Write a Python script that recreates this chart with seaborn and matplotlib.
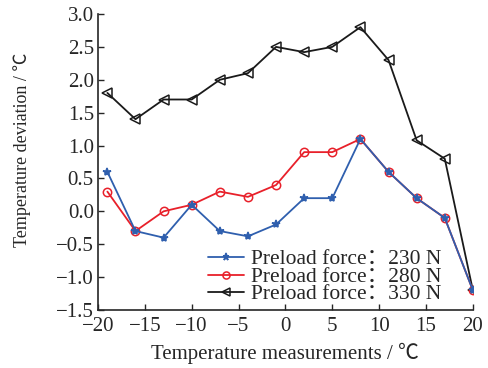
"""Temperature deviation vs temperature measurement for three preload forces."""

import numpy as np
import pandas as pd
import seaborn as sns
import matplotlib.pyplot as plt

temps = [-19, -16, -13, -10, -7, -4, -1, 2, 5, 8, 11, 14, 17, 20]
dev_230 = [0.6, -0.3, -0.4, 0.1, -0.3, -0.38, -0.2, 0.2, 0.2, 1.1, 0.6, 0.2, -0.1, -1.2]
dev_280 = [0.3, -0.3, 0.0, 0.1, 0.3, 0.22, 0.4, 0.9, 0.9, 1.1, 0.6, 0.2, -0.1, -1.2]
dev_330 = [1.8, 1.4, 1.7, 1.7, 2.0, 2.1, 2.5, 2.42, 2.5, 2.8, 2.3, 1.08, 0.8, -1.2]
labels = ["Preload force：230 N", "Preload force：280 N", "Preload force：330 N"]

sns.set_style("ticks")
plt.rcParams["font.family"] = ["Liberation Serif", "Noto Sans CJK SC", "DejaVu Serif"]
plt.rcParams["axes.unicode_minus"] = True

df = pd.DataFrame({"temp": temps, "230": dev_230, "280": dev_280, "330": dev_330})

fig, ax = plt.subplots(figsize=(4.89, 3.68), dpi=100)
fig.subplots_adjust(left=0.2004, right=0.967, top=0.962, bottom=0.1576)

styles = [
    ("330", labels[2], "#1a1a1a", "<", "none", 7),
    ("280", labels[1], "#e8202a", "o", "none", 6),
    ("230", labels[0], "#2f5fae", "*", "#2f5fae", 6),
]
for col, lab, color, marker, mfc, ms in styles:
    sns.lineplot(data=df, x="temp", y=col, ax=ax, color=color, lw=1.3,
                 marker=marker, markersize=ms, markerfacecolor=mfc,
                 markeredgecolor=color, markeredgewidth=1.1, label=lab)

ax.set_xlim(-20, 20)
ax.set_ylim(-1.5, 3.0)
ax.set_xticks(np.arange(-20, 21, 5))
yt = np.arange(-1.5, 3.01, 0.5)
ax.set_yticks(yt)
ax.set_yticklabels([f"{v:.1f}".replace("-", "−") for v in yt])
ax.tick_params(direction="in", length=4, width=1, labelsize=15)
ax.tick_params(axis="x", pad=5)
ax.tick_params(axis="y", pad=3)
sns.despine(ax=ax)
for s in ["left", "bottom"]:
    ax.spines[s].set_linewidth(1.2)

ax.set_xlabel("Temperature measurements / ℃", fontsize=15, labelpad=5)
ax.set_ylabel("Temperature deviation / ℃", fontsize=13)
ax.yaxis.set_label_coords(-0.178, 0.54)

h, l = ax.get_legend_handles_labels()
ax.legend(h[::-1], l[::-1], loc="lower left", bbox_to_anchor=(0.27, -0.012),
          frameon=False, fontsize=15.5, handlelength=1.7, handletextpad=0.3,
          labelspacing=-0.12, borderaxespad=0.0, markerscale=0.85)

fig.savefig("out.png", dpi=100)
